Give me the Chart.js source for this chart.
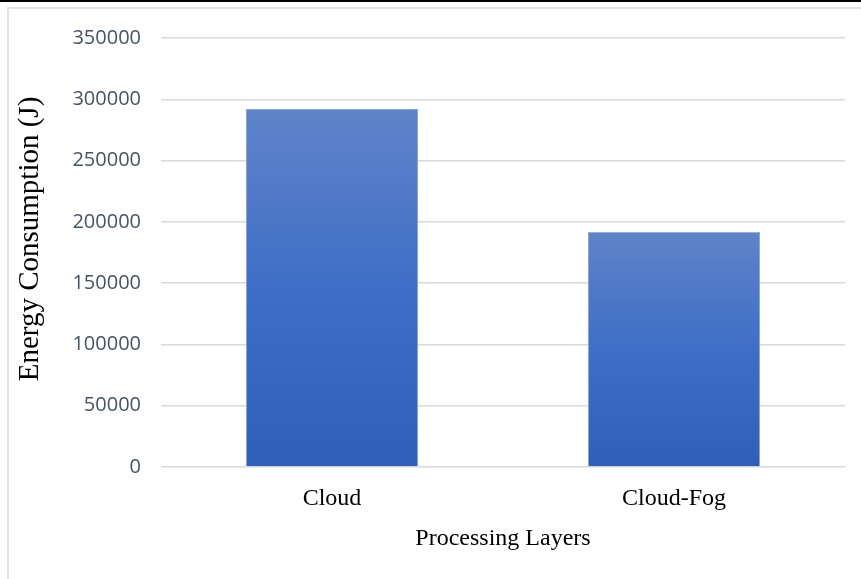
<!DOCTYPE html>
<html>
<head>
<meta charset="utf-8">
<script src="https://cdn.jsdelivr.net/npm/chart.js@4/dist/chart.umd.min.js"></script>
<style>
  html, body { margin: 0; padding: 0; background: #fff; }
  #wrap { position: relative; width: 861px; height: 579px; overflow: hidden; }
  #topline { position: absolute; left: 0; top: 0; width: 861px; height: 2px; background: #000; }
  #frame { position: absolute; left: 7px; top: 7px; width: 900px; height: 600px;
           border-left: 2px solid #dfe4ea; border-top: 2px solid #dfe4ea; box-sizing: border-box; }
  canvas { position: absolute; left: 0; top: 0; }
</style>
</head>
<body>
<div id="wrap">
  <div id="frame"></div>
  <div id="topline"></div>
  <canvas id="c" width="861" height="579"></canvas>
</div>
<script>
// Energy consumed per processing layer
const categories = ['Cloud', 'Cloud-Fog'];
const energyJoules = [292000, 192000];
const yTicks = [0, 50000, 100000, 150000, 200000, 250000, 300000, 350000];
const yTitle = 'Energy Consumption (J)';
const xTitle = 'Processing Layers';

const serif = '"Liberation Serif", "Times New Roman", serif';

// Vertical gradient that spans each bar from its top down to the baseline
function barGradient(ctx) {
  const chart = ctx.chart;
  const y = chart.scales.y;
  if (!chart.chartArea || !y || ctx.raw === undefined) return '#3d6cc4';
  const top = y.getPixelForValue(ctx.raw);
  const bottom = y.getPixelForValue(0);
  const g = chart.ctx.createLinearGradient(0, top, 0, bottom);
  g.addColorStop(0, '#5f84c9');
  g.addColorStop(0.5, '#3f6ec6');
  g.addColorStop(1, '#2f5fb8');
  return g;
}

// Rotated value-axis title, placed a little above the plot's middle
const yTitlePlugin = {
  id: 'yTitle',
  afterDraw(chart) {
    const c = chart.ctx;
    c.save();
    c.translate(30, 239);
    c.rotate(-Math.PI / 2);
    c.font = '29px ' + serif;
    c.fillStyle = '#000';
    c.textAlign = 'center';
    c.textBaseline = 'middle';
    c.fillText(yTitle, 0, 0);
    c.restore();
  }
};

new Chart(document.getElementById('c'), {
  type: 'bar',
  data: {
    labels: categories,
    datasets: [{
      data: energyJoules,
      backgroundColor: barGradient,
      borderColor: '#8ea6d6',
      borderWidth: { top: 1, left: 1, right: 1, bottom: 0 },
      barPercentage: 1,
      categoryPercentage: 0.503
    }]
  },
  plugins: [yTitlePlugin],
  options: {
    responsive: false,
    animation: false,
    layout: { padding: { left: 0, top: 38, right: 16, bottom: 0 } },
    plugins: { legend: { display: false }, tooltip: { enabled: false } },
    scales: {
      x: {
        grid: { display: false, drawTicks: false },
        border: { display: false },
        ticks: {
          color: '#000',
          font: { family: serif, size: 24 },
          padding: 17
        },
        title: {
          display: true,
          text: xTitle,
          color: '#000',
          font: { family: serif, size: 24 },
          padding: { top: 0, bottom: 26 }
        },
        afterFit: s => { s.height = 112; }
      },
      y: {
        min: 0,
        max: 350000,
        afterBuildTicks: s => { s.ticks = yTicks.map(v => ({ value: v })); },
        grid: { color: '#d9d9d9', lineWidth: 1.5, drawTicks: false },
        border: { display: false },
        ticks: {
          color: '#475467',
          font: { family: '"Open Sans", "Noto Sans", sans-serif', size: 20 },
          padding: 20,
          callback: v => String(v)
        },
        afterFit: s => { s.width = 161; }
      }
    }
  }
});
</script>
</body>
</html>
